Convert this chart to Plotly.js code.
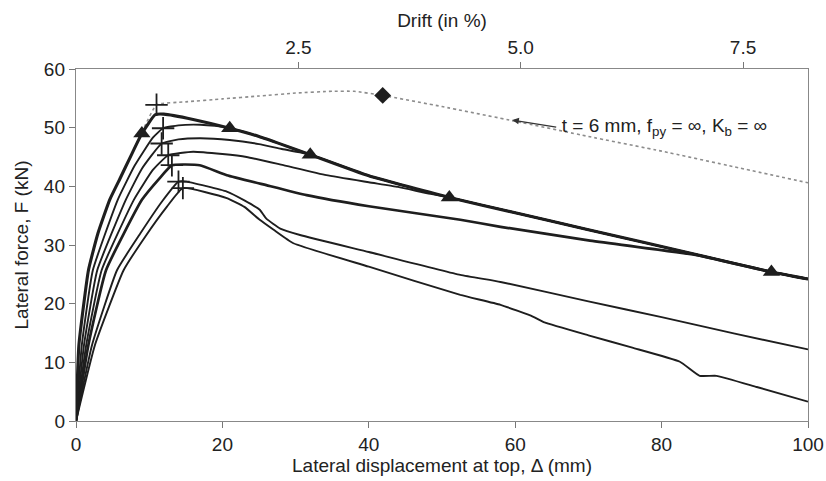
<!DOCTYPE html>
<html>
<head>
<meta charset="utf-8">
<script src="https://cdn.plot.ly/plotly-3.0.1.min.js"></script>
<style>html,body{margin:0;padding:0;background:#fff;}#chart{width:826px;height:481px;}</style>
</head>
<body>
<div id="chart"></div>
<script>
// Lateral displacement (mm) and lateral force (kN)
var refX = [0, 0.4, 1.7, 3, 4.6, 6, 7.5, 9.3, 11.0, 15, 20, 25, 30, 35, 38, 41.9, 50, 60, 70, 80, 90, 100];
var refF = [0, 13, 25.7, 32, 37.7, 41.3, 45.2, 50.0, 53.9, 54.4, 54.9, 55.4, 55.9, 56.2, 56.2, 55.5, 53.6, 51.1, 48.5, 46.0, 43.3, 40.6];

var thickX = [0, 0.4, 1.7, 3, 4.6, 6, 7.5, 9, 10.8, 12, 16, 21, 25, 28, 32, 40, 51, 60, 70, 85, 95, 100];
var thickF = [0, 13, 25.7, 32, 37.7, 41.3, 45.2, 49, 52.2, 52.3, 51.4, 49.9, 48.5, 47.2, 45.4, 41.8, 38.1, 35.5, 32.6, 28.3, 25.4, 24.2];

var c2X = [0, 0.8, 2.3, 5.7, 8, 10.5, 11.9, 14, 17, 19, 21, 25, 28, 32, 40, 51, 60, 70, 85, 95, 100];
var c2F = [0, 13, 25.7, 37.7, 43.5, 48.3, 49.9, 50.4, 50.5, 50.3, 49.9, 48.5, 47.2, 45.4, 41.8, 38.1, 35.5, 32.6, 28.3, 25.4, 24.2];

var c3X = [0, 1.1, 2.9, 6.8, 9, 11.7, 14, 17, 21, 25, 28, 32, 40, 51, 60, 70, 85, 95, 100];
var c3F = [0, 13, 25.7, 37.7, 43, 47.3, 48.0, 48.2, 47.9, 47.2, 46.4, 45.4, 41.8, 38.1, 35.5, 32.6, 28.3, 25.4, 24.2];

var c4X = [0, 1.4, 3.5, 7.9, 10.5, 12.6, 16, 20, 23.3, 28, 34.2, 40, 44, 48, 51, 60, 70, 85, 95, 100];
var c4F = [0, 13, 25.7, 37.7, 42.8, 45.3, 45.9, 45.5, 45.0, 43.7, 41.9, 40.7, 39.9, 38.8, 38.1, 35.5, 32.6, 28.3, 25.4, 24.2];

var c5X = [0, 1.7, 4.1, 9, 11.5, 13.1, 16.9, 20.6, 26, 31.5, 40, 52.5, 58, 70, 85.2, 95, 100];
var c5F = [0, 13, 25.7, 37.7, 41.5, 43.6, 43.6, 41.9, 40.2, 38.5, 36.6, 34.3, 33.1, 30.8, 28.2, 25.4, 24.2];

var c6X = [0, 2.2, 5.6, 8.8, 11.8, 14.0, 15.1, 20.6, 23, 25.1, 26, 27.9, 30.6, 40, 52.5, 58, 70, 80, 90, 100];
var c6F = [0, 13, 25.7, 32, 37.5, 40.8, 40.8, 39.1, 37.6, 36.0, 34.5, 32.8, 31.7, 28.8, 24.9, 23.7, 20.4, 17.7, 14.9, 12.2];

var c7X = [0, 2.6, 6.5, 9.5, 12.4, 14.6, 20.6, 23, 25.1, 27, 29.7, 40, 52.5, 58, 62.4, 64, 70, 76, 82.5, 85.2, 87.5, 93, 100];
var c7F = [0, 13, 25.7, 31.5, 36.5, 39.7, 38.0, 36.5, 34.3, 32.6, 30.3, 26.3, 21.5, 19.8, 17.8, 16.8, 14.6, 12.5, 10.1, 7.7, 7.7, 5.8, 3.3];

// Marker positions
var peakX = [11.0, 11.9, 11.7, 12.6, 13.1, 14.0, 14.6];
var peakF = [53.9, 49.9, 47.3, 45.3, 43.6, 40.8, 39.7];
var triX = [9, 21, 32, 51, 95];
var triF = [49, 49.9, 45.4, 38.1, 25.4];
var diaX = [41.9];
var diaF = [55.5];

// Axis ticks
var xTicks = [0, 20, 40, 60, 80, 100];
var yTicks = [0, 10, 20, 30, 40, 50, 60];
var driftTicks = [2.5, 5.0, 7.5];
var driftTickText = ['2.5', '5.0', '7.5'];

var ink = '#1e1e1e';
var FONT = '"Liberation Sans", Arial, sans-serif';

function line(x, y, w, color, dash) {
  return {x: x, y: y, type: 'scatter', mode: 'lines', hoverinfo: 'skip', showlegend: false,
          line: {color: color || ink, width: w, dash: dash || 'solid', shape: 'spline', smoothing: 0.4}};
}

var data = [
  line(refX, refF, 1.6, '#8c8c8c', 'dot'),
  line(c7X, c7F, 1.9),
  line(c6X, c6F, 1.9),
  line(c5X, c5F, 2.7),
  line(c4X, c4F, 1.9),
  line(c3X, c3F, 1.9),
  line(c2X, c2F, 1.9),
  line(thickX, thickF, 3.1),
  {x: peakX, y: peakF, type: 'scatter', mode: 'markers', showlegend: false, hoverinfo: 'skip',
   marker: {symbol: 'cross-thin', size: 16, line: {color: ink, width: 1.8}}},
  {x: triX, y: triF, type: 'scatter', mode: 'markers', showlegend: false, hoverinfo: 'skip',
   marker: {symbol: 'triangle-up', size: 15, color: ink}},
  {x: diaX, y: diaF, type: 'scatter', mode: 'markers', showlegend: false, hoverinfo: 'skip',
   marker: {symbol: 'diamond', size: 13, color: ink}},
  {x: [0, 8.23], y: [0, 0], xaxis: 'x2', yaxis: 'y', type: 'scatter', mode: 'lines', showlegend: false,
   hoverinfo: 'skip', line: {width: 0}, opacity: 0}
];

var layout = {
  width: 826, height: 481,
  margin: {l: 76, r: 18, t: 69, b: 60},
  paper_bgcolor: '#ffffff', plot_bgcolor: '#ffffff',
  font: {family: FONT, size: 19, color: '#222'},
  xaxis: {
    range: [0, 100], tickvals: xTicks, ticks: 'outside', ticklen: 6, tickcolor: '#777',
    showgrid: false, zeroline: false, showline: true, linecolor: '#888', linewidth: 1.2,
    mirror: false, tickfont: {size: 19},
    title: {text: 'Lateral displacement at top, \u0394 (mm)', font: {size: 19}, standoff: 4}
  },
  xaxis2: {
    overlaying: 'x', side: 'top', range: [0, 8.23], tickvals: driftTicks, ticktext: driftTickText,
    ticks: 'outside', ticklen: 6, tickcolor: '#777', showgrid: false, zeroline: false,
    showline: true, linecolor: '#888', linewidth: 1.2, tickfont: {size: 19},
    title: {text: 'Drift (in %)', font: {size: 19}, standoff: 4}
  },
  yaxis: {
    range: [0, 60], tickvals: yTicks, ticks: 'outside', ticklen: 6, tickcolor: '#777',
    showgrid: false, zeroline: false, showline: true, linecolor: '#888', linewidth: 1.2,
    mirror: true, tickfont: {size: 19},
    title: {text: 'Lateral force, F (kN)', font: {size: 19}, standoff: 10}
  },
  annotations: [{
    x: 59.6, y: 51.3, xref: 'x', yref: 'y',
    ax: 65.6, ay: 50.1, axref: 'x', ayref: 'y',
    text: '\u2009t = 6 mm, f<sub>py</sub> = \u221e, K<sub>b</sub> = \u221e',
    xanchor: 'left', yanchor: 'middle',
    showarrow: true, arrowhead: 2, arrowsize: 1.1, arrowwidth: 1.2, arrowcolor: '#333',
    font: {family: FONT, size: 19, color: '#222'}
  }]
};

Plotly.newPlot('chart', data, layout, {displayModeBar: false, staticPlot: true});
</script>
</body>
</html>
